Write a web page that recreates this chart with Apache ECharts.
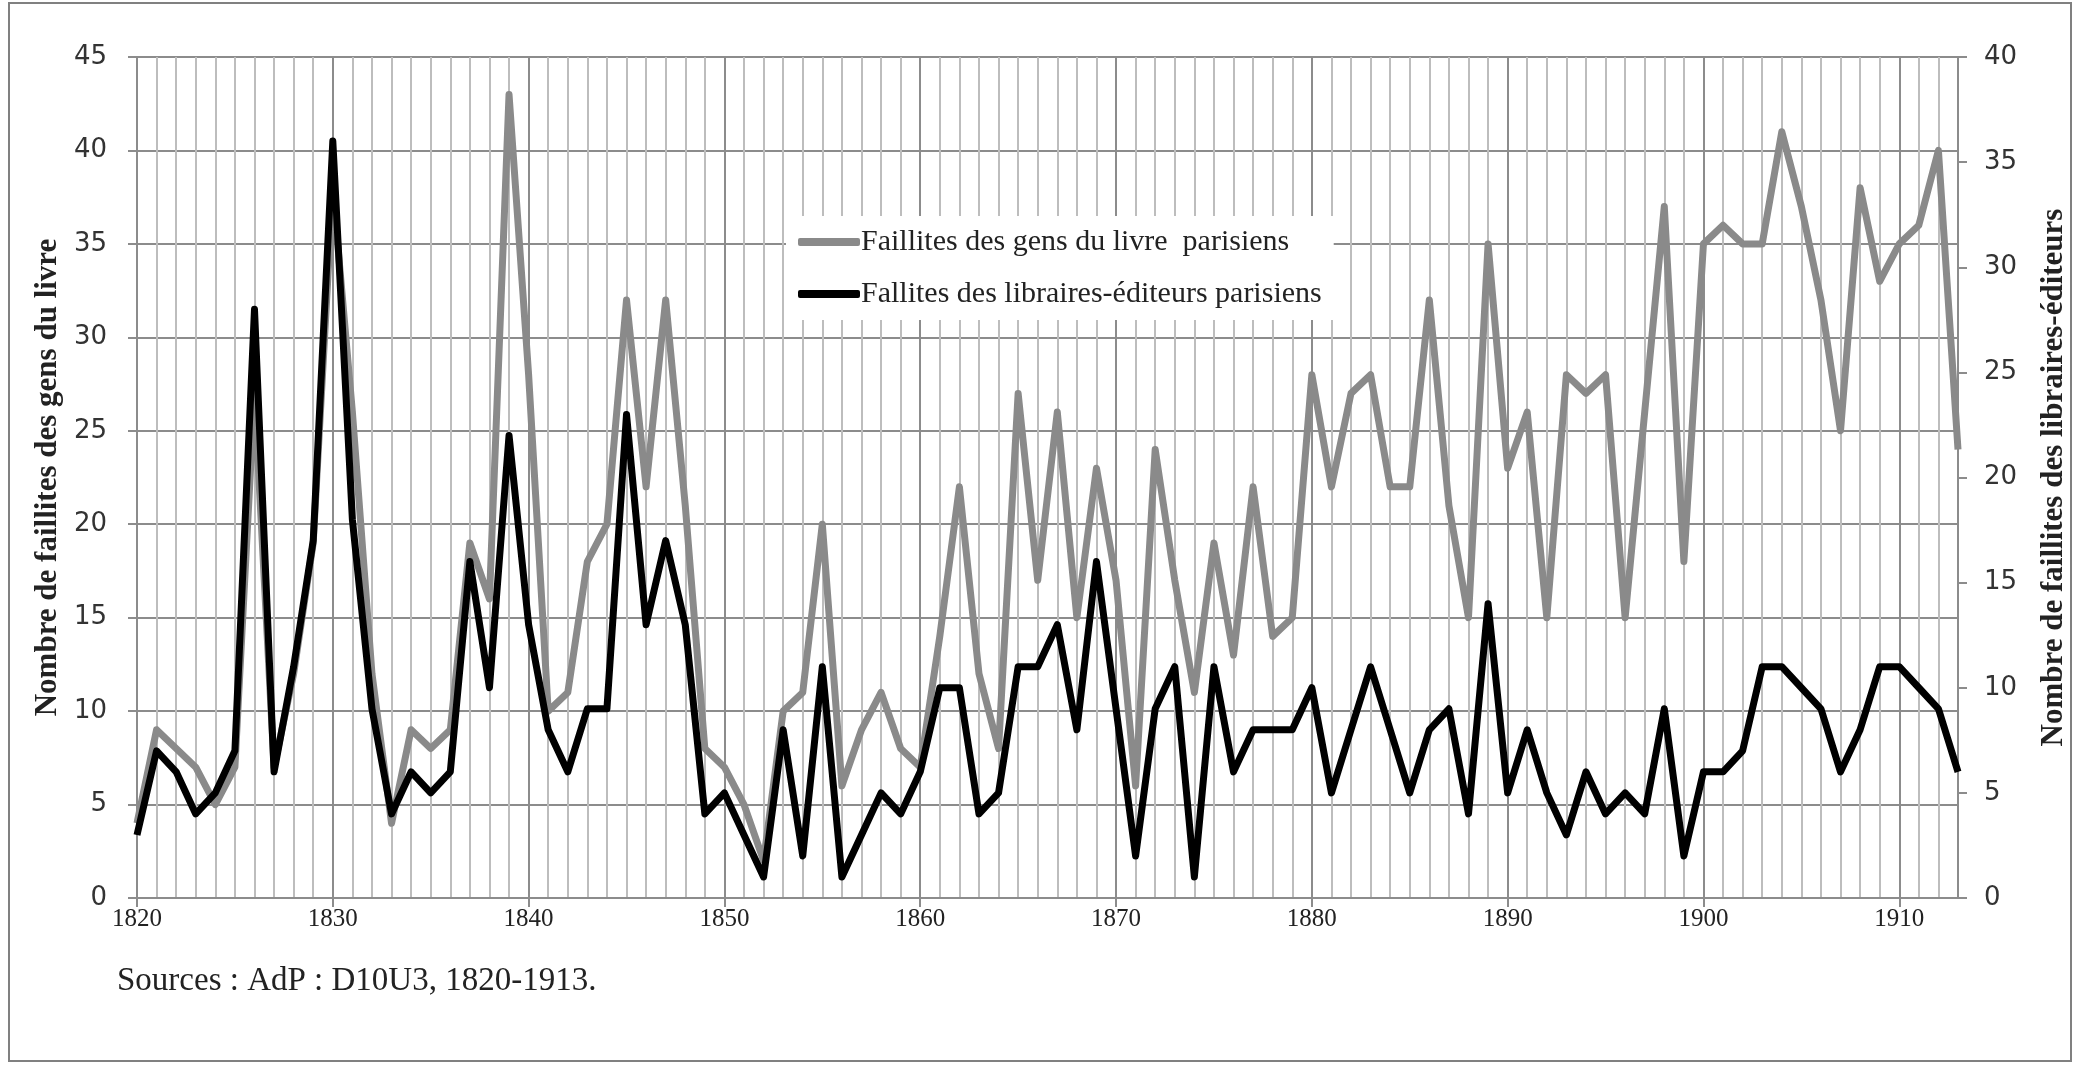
<!DOCTYPE html>
<html>
<head>
<meta charset="utf-8">
<script src="https://cdn.jsdelivr.net/npm/echarts@6/dist/echarts.min.js"></script>
<style>
  html, body { margin: 0; padding: 0; background: #fff; }
  #chart { width: 2079px; height: 1070px; }
</style>
</head>
<body>
<div id="chart"></div>
<script>
const years = []
for (let y = 1820; y <= 1913; y++) years.push(String(y))

// Faillites des gens du livre (left axis)
const gensDuLivre = [
  4, 9, 8, 7, 5, 7, 27, 7, 12, 19,
  38, 26, 12, 4, 9, 8, 9, 19, 16, 43,
  28, 10, 11, 18, 20, 32, 22, 32, 21, 8,
  7, 5, 2, 10, 11, 20, 6, 9, 11, 8,
  7, 14, 22, 12, 8, 27, 17, 26, 15, 23,
  17, 6, 24, 17, 11, 19, 13, 22, 14, 15,
  28, 22, 27, 28, 22, 22, 32, 21, 15, 35,
  23, 26, 15, 28, 27, 28, 15, 26, 37, 18,
  35, 36, 35, 35, 41, 37, 32, 25, 38, 33,
  35, 36, 40, 24,
]

// Faillites des libraires-éditeurs (right axis)
const librairesEditeurs = [
  3, 7, 6, 4, 5, 7, 28, 6, 11, 17,
  36, 18, 9, 4, 6, 5, 6, 16, 10, 22,
  13, 8, 6, 9, 9, 23, 13, 17, 13, 4,
  5, 3, 1, 8, 2, 11, 1, 3, 5, 4,
  6, 10, 10, 4, 5, 11, 11, 13, 8, 16,
  9, 2, 9, 11, 1, 11, 6, 8, 8, 8,
  10, 5, 8, 11, 8, 5, 8, 9, 4, 14,
  5, 8, 5, 3, 6, 4, 5, 4, 9, 2,
  6, 6, 7, 11, 11, 10, 9, 6, 8, 11,
  11, 10, 9, 6,
]

const SERIES_NAMES = [
  'Faillites des gens du livre  parisiens',
  'Fallites des libraires-éditeurs parisiens',
]

const GREY = '#8a8a8a'
const AXIS = '#8c8c8c'
const SERIF = '"Liberation Serif", "DejaVu Serif", serif'
const SANS = '"DejaVu Sans", Verdana, sans-serif'

// every tenth year line is darker
const yearLineColors = ['#8c8c8c']
for (let i = 0; i < 9; i++) yearLineColors.push('#bdbdbd')

const isDecade = (i) => i % 10 === 0

const chart = echarts.init(document.getElementById('chart'))

chart.setOption({
  backgroundColor: '#fff',
  animation: false,
  grid: { left: 137, right: 121, top: 57, bottom: 172 },
  legend: {
    orient: 'vertical',
    left: 786,
    top: 216,
    backgroundColor: '#fff',
    padding: [11, 12, 11, 12],
    itemGap: 22,
    itemWidth: 62,
    itemHeight: 8,
    icon: 'roundRect',
    textStyle: { fontFamily: SERIF, fontSize: 30, color: '#222', padding: [0, 0, 0, -4] },
    data: SERIES_NAMES,
  },
  xAxis: {
    type: 'category',
    data: years,
    boundaryGap: false,
    axisLine: { lineStyle: { color: AXIS, width: 2 } },
    axisTick: { show: true, interval: isDecade, length: 9, lineStyle: { color: AXIS, width: 2 } },
    axisLabel: {
      interval: isDecade,
      fontFamily: SERIF,
      fontSize: 25,
      color: '#222',
      margin: 9,
    },
    splitLine: { show: true, interval: 0, lineStyle: { color: yearLineColors, width: 2 } },
  },
  yAxis: [
    {
      type: 'value',
      min: 0,
      max: 45,
      interval: 5,
      name: 'Nombre de faillites des gens du livre',
      nameLocation: 'middle',
      nameGap: 73,
      nameTextStyle: { fontFamily: SERIF, fontWeight: 'bold', fontSize: 31, color: '#222' },
      axisLine: { show: true, lineStyle: { color: AXIS, width: 2 } },
      axisTick: { show: true, length: 9, lineStyle: { color: AXIS, width: 2 } },
      axisLabel: { fontFamily: SANS, fontSize: 26, color: '#333', margin: 30 },
      splitLine: { show: true, lineStyle: { color: '#8c8c8c', width: 2 } },
    },
    {
      type: 'value',
      min: 0,
      max: 40,
      interval: 5,
      position: 'right',
      name: 'Nombre de faillites des libraires-éditeurs',
      nameLocation: 'middle',
      nameGap: 80,
      nameRotate: 90,
      nameTextStyle: { fontFamily: SERIF, fontWeight: 'bold', fontSize: 31, color: '#222' },
      axisLine: { show: true, lineStyle: { color: AXIS, width: 2 } },
      axisTick: { show: true, length: 9, lineStyle: { color: AXIS, width: 2 } },
      axisLabel: { fontFamily: SANS, fontSize: 26, color: '#333', margin: 26 },
      splitLine: { show: false },
    },
  ],
  series: [
    {
      name: SERIES_NAMES[0],
      type: 'line',
      yAxisIndex: 0,
      data: gensDuLivre,
      symbol: 'none',
      itemStyle: { color: GREY },
      lineStyle: { color: GREY, width: 7, join: 'round' },
      z: 2,
    },
    {
      name: SERIES_NAMES[1],
      type: 'line',
      yAxisIndex: 1,
      data: librairesEditeurs,
      symbol: 'none',
      itemStyle: { color: '#000' },
      lineStyle: { color: '#000', width: 7, join: 'round' },
      z: 3,
    },
  ],
  graphic: [
    {
      type: 'rect',
      shape: { x: 9, y: 3, width: 2062, height: 1058 },
      style: { fill: 'none', stroke: '#808080', lineWidth: 2 },
      silent: true,
    },
    {
      type: 'text',
      left: 117,
      top: 965,
      style: { text: 'Sources : AdP : D10U3, 1820-1913.', fontFamily: SERIF, fontSize: 33, fill: '#222' },
    },
  ],
})
</script>
</body>
</html>
